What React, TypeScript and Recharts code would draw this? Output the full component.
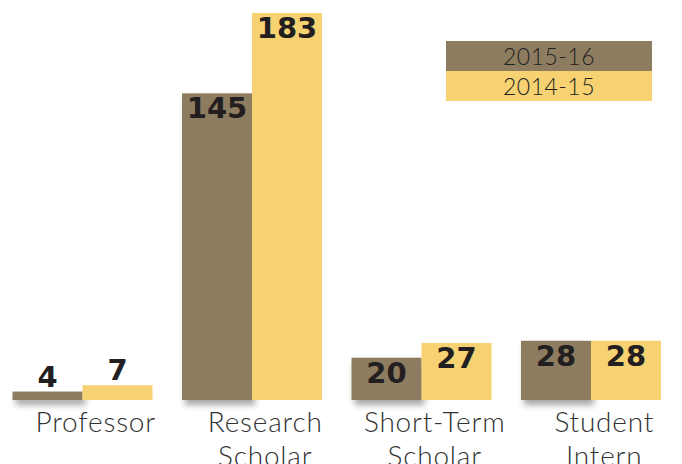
import React from 'react';
import { BarChart, Bar, XAxis, YAxis, LabelList } from 'recharts';

const categories = ['Professor', 'Research Scholar', 'Short-Term Scholar', 'Student Intern'];
const tickLines = [['Professor'], ['Research', 'Scholar'], ['Short-Term', 'Scholar'], ['Student', 'Intern']];
const values2015 = [4, 145, 20, 28];
const values2014 = [7, 183, 27, 28];
const seriesNames = ['2015-16', '2014-15'];

const BROWN = '#8E7C60';
const YELLOW = '#F6D273';
const INK = '#231F20';

const data = categories.map((c, i) => ({ name: c, y2015: values2015[i], y2014: values2014[i] }));

const ValueLabel = (props: any) => {
  const { x, y, width, height, value } = props;
  const cx = x + width / 2;
  // short bars get their number above, tall bars inside at the top
  const ty = height < 30 ? y - 5 : y + 25;
  return (
    <text x={cx} y={ty} textAnchor="middle" fill={INK}
      style={{ fontFamily: '"DejaVu Sans", sans-serif', fontWeight: 700, fontSize: 29 }}>
      {value}
    </text>
  );
};

const CategoryTick = (props: any) => {
  const { x, y, payload } = props;
  const lines = tickLines[payload.index] || [payload.value];
  return (
    <g>
      {lines.map((l, i) => (
        <text key={i} x={x + 13} y={y + 24 + i * 34} textAnchor="middle" fill="#333"
          style={{ fontFamily: 'Lato, sans-serif', fontWeight: 300, fontSize: 28, letterSpacing: 0.8 }}>
          {l}
        </text>
      ))}
    </g>
  );
};

const ShadowBar = (props: any) => {
  const { x, y, width, height, fill } = props;
  return (
    <rect x={x} y={y} width={width} height={height} fill={fill}
      style={{ filter: 'drop-shadow(3px 5px 3px rgba(0,0,0,0.35))' }} />
  );
};

const LegendBox = () => (
  <div style={{ position: 'absolute', top: 41, left: 448, width: 206 }}>
    {seriesNames.map((n, i) => (
      <div key={n} style={{
        height: 30, lineHeight: '30px', background: i === 0 ? BROWN : YELLOW, color: INK,
        textAlign: 'center', fontFamily: 'Lato, sans-serif', fontWeight: 300, fontSize: 23, letterSpacing: 0.5,
      }}>
        {n}
      </div>
    ))}
  </div>
);

export default function App() {
  return (
    <div style={{ position: 'absolute', left: -2, top: 0, width: 678, height: 464, background: '#fff', overflow: 'hidden' }}>
      <BarChart width={678} height={464} data={data}
        margin={{ top: 13, right: 0, left: 0, bottom: 0 }}
        barCategoryGap={14.5} barGap={0}>
        <XAxis dataKey="name" axisLine={false} tickLine={false} height={64} interval={0} tick={<CategoryTick />} />
        <YAxis hide domain={[0, 183]} />
        <Bar dataKey="y2015" name={seriesNames[0]} fill={BROWN} isAnimationActive={false} shape={<ShadowBar />}>
          <LabelList dataKey="y2015" content={<ValueLabel />} />
        </Bar>
        <Bar dataKey="y2014" name={seriesNames[1]} fill={YELLOW} isAnimationActive={false}>
          <LabelList dataKey="y2014" content={<ValueLabel />} />
        </Bar>
      </BarChart>
      <LegendBox />
    </div>
  );
}
